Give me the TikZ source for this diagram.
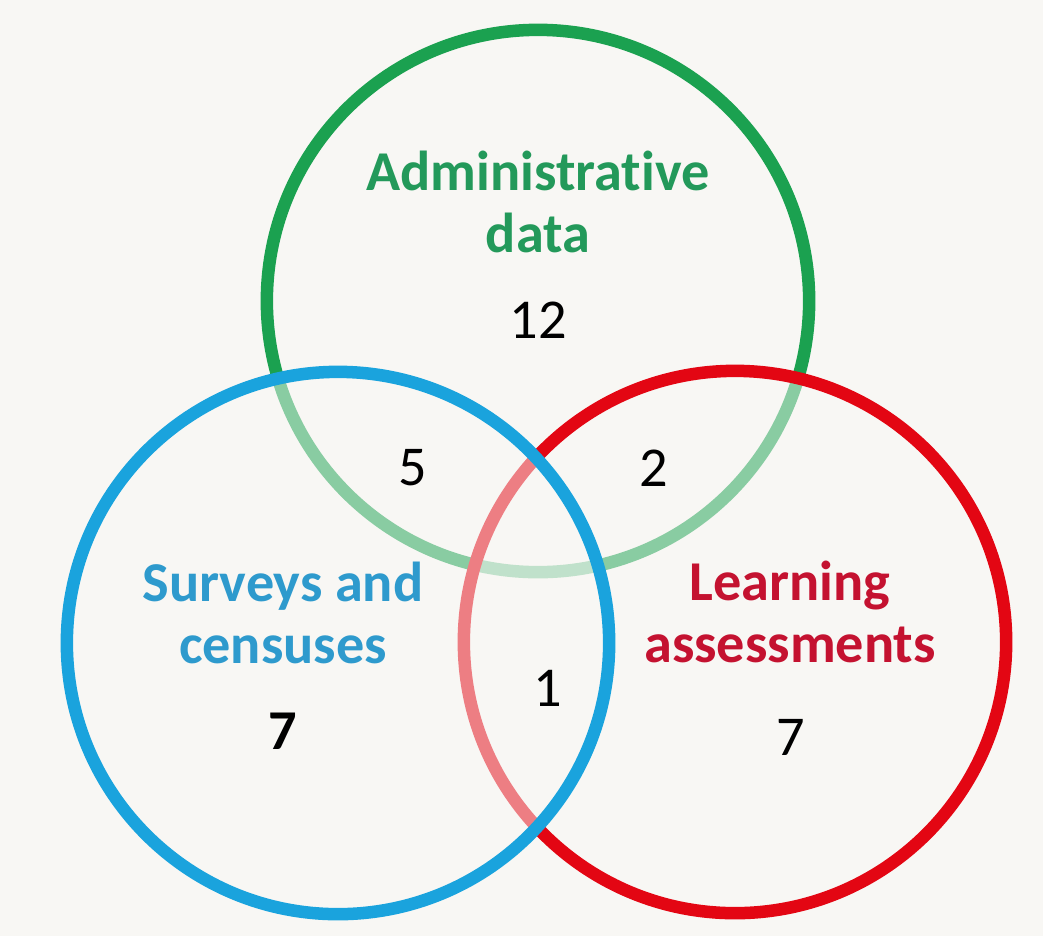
\documentclass[tikz,border=0pt]{standalone}
\usepackage{fontspec}
\setmainfont[Ligatures=NoCommon]{Carlito}

\definecolor{paper}{RGB}{248,247,244}
\definecolor{admingreen}{RGB}{27,161,80}
\definecolor{admintext}{RGB}{35,153,90}
\definecolor{surveyblue}{RGB}{26,163,221}
\definecolor{surveytext}{RGB}{46,154,205}
\definecolor{learnred}{RGB}{227,6,19}
\definecolor{learntext}{RGB}{196,18,48}

\begin{document}
\begin{tikzpicture}[x=0.01cm, y=-0.01cm]
        % Styles
        \tikzstyle{set} = [circle, minimum size=5.42cm, inner sep=0pt, line width=0.125cm]
        \tikzstyle{setname} = [font=\bfseries\fontsize{16}{17.5}\selectfont, align=center]
        \tikzstyle{count} = [font=\fontsize{16}{17}\selectfont]

        % Background
        \fill [paper] (0,0) rectangle (1043,936);
        \useasboundingbox (0,0) rectangle (1043,936);

        % Sets (later ones fade the lines below them)
        \node (admin) [set, draw=admingreen] at (538,301) {};
        \node (learn) [set, draw=learnred, fill=paper, fill opacity=0.5] at (735,642) {};
        \node (survey) [set, draw=surveyblue, fill=paper, fill opacity=0.5] at (338,643) {};

        % Set names
        \node (admin_name) [setname, text=admintext] at (538,202) {Administrative\\data};
        \node (survey_name) [setname, text=surveytext] at (283,613) {Surveys and\\censuses};
        \node (learn_name) [setname, text=learntext] at (790,612) {Learning\\assessments};

        % Counts
        \node (n_admin) [count] at (538,320) {12};
        \node (n_admin_survey) [count] at (413,468) {5};
        \node (n_admin_learn) [count] at (654,468) {2};
        \node (n_all) [count] at (548,688) {1};
        \node (n_survey) [count, font=\bfseries\fontsize{16}{17}\selectfont] at (283,731) {7};
        \node (n_learn) [count] at (791,737) {7};

    \end{tikzpicture}
\end{document}
